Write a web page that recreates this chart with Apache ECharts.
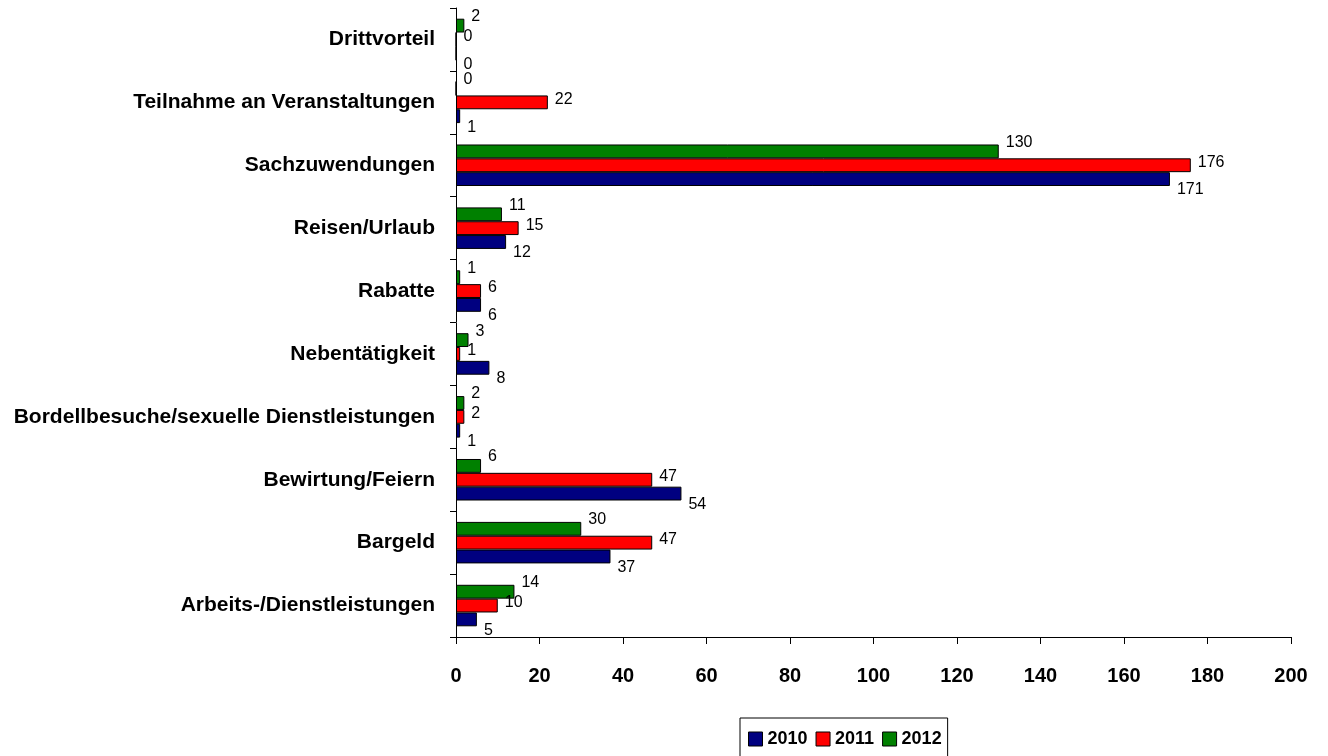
<!DOCTYPE html>
<html>
<head>
<meta charset="utf-8">
<script src="https://cdn.jsdelivr.net/npm/echarts@6/dist/echarts.min.js"></script>
<style>
    html, body { margin: 0; padding: 0; background: #fff; }
    #chart { width: 1328px; height: 756px; }
</style>
</head>
<body>
<div id="chart"></div>
<script>
// categories from bottom to top
var categories = [
    'Arbeits-/Dienstleistungen',
    'Bargeld',
    'Bewirtung/Feiern',
    'Bordellbesuche/sexuelle Dienstleistungen',
    'Nebentätigkeit',
    'Rabatte',
    'Reisen/Urlaub',
    'Sachzuwendungen',
    'Teilnahme an Veranstaltungen',
    'Drittvorteil'
]
var years = ['2010', '2011', '2012']
var values2010 = [5, 37, 54, 1, 8, 6, 12, 171, 1, 0]
var values2011 = [10, 47, 47, 2, 1, 6, 15, 176, 22, 0]
var values2012 = [14, 30, 6, 2, 3, 1, 11, 130, 0, 2]
var xTicks = [0, 20, 40, 60, 80, 100, 120, 140, 160, 180, 200]

var colors = { '2010': '#000080', '2011': '#ff0000', '2012': '#008000' }
var labelOffsets = { '2010': [1, 11], '2011': [1, -3], '2012': [1, -9] }
var valuesByYear = { '2010': values2010, '2011': values2011, '2012': values2012 }

var fontName = '"Liberation Sans", Arial, sans-serif'

var chart = echarts.init(document.getElementById('chart'))

// echarts draws the first series at the top of each band, so add them 2012 -> 2010
var order = ['2012', '2011', '2010']

var options = {
    animation: false,
    textStyle: { fontFamily: fontName },
    legend: {
        data: years,
        left: 740,
        top: 718,
        padding: [12, 6, 12, 8],
        itemGap: 8,
        itemWidth: 14,
        itemHeight: 14,
        icon: 'rect',
        borderColor: '#000',
        borderWidth: 1,
        borderRadius: 0,
        itemStyle: { borderColor: '#000', borderWidth: 1 },
        textStyle: {
            color: '#000',
            fontFamily: fontName,
            fontSize: 18,
            fontWeight: 'bold',
        },
    },
    grid: {
        left: 456,
        right: 37,
        top: 8,
        bottom: 119,
        containLabel: false,
        outerBoundsMode: 'none',
    },
    xAxis: {
        type: 'value',
        min: 0,
        max: 200,
        interval: 20,
        splitLine: { show: false },
        axisLine: { show: true, lineStyle: { color: '#000', width: 1 } },
        axisTick: { show: true, length: 7, lineStyle: { color: '#000' } },
        axisLabel: {
            color: '#000',
            fontFamily: fontName,
            fontSize: 20,
            fontWeight: 'bold',
            margin: 29,
            formatter: function (v) { return xTicks.indexOf(v) >= 0 ? String(v) : '' },
        },
    },
    yAxis: {
        type: 'category',
        data: categories,
        axisLine: { show: true, lineStyle: { color: '#000', width: 1 } },
        axisTick: { show: true, length: 6, lineStyle: { color: '#000' } },
        axisLabel: {
            color: '#000',
            fontFamily: fontName,
            fontSize: 21,
            fontWeight: 'bold',
            margin: 21,
            padding: [4, 0, 0, 0],
        },
    },
    series: order.map(function (y) {
        return {
            name: y,
            type: 'bar',
            data: valuesByYear[y],
            barGap: '0%',
            barCategoryGap: '34%',
            itemStyle: { color: colors[y], borderColor: '#000', borderWidth: 1 },
            label: {
                show: true,
                position: 'right',
                distance: 6,
                offset: labelOffsets[y],
                color: '#000',
                fontFamily: fontName,
                fontSize: 16,
            },
        }
    }),
}

chart.setOption(options)
</script>
</body>
</html>
